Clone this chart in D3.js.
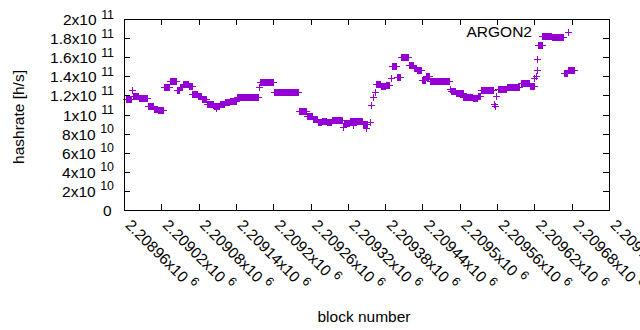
<!DOCTYPE html>
<html><head><meta charset="utf-8">
<script src="https://cdn.jsdelivr.net/npm/d3@7"></script>
<style>
body{margin:0;background:#fff}
svg{display:block}
text{font-family:"Liberation Sans",Arial,sans-serif;fill:#000}
</style>
</head><body>
<svg id="chart" width="640" height="330"></svg>
<script>
// ---- data (block ranges with a constant hashrate, in units of 1e9 h/s) ----
const runFirstBlock = [2208963,2208973,2208974,2208984,2208999,2209000,2209008,2209015,2209024,2209034,2209045,2209050,2209055,2209064,2209070,2209079,2209085,2209093,2209105,2209108,2209114,2209122,2209130,2209142,2209177,2209179,2209201,2209241,2209254,2209264,2209272,2209278,2209286,2209294,2209312,2209314,2209323,2209328,2209333,2209344,2209349,2209355,2209358,2209361,2209363,2209365,2209373,2209381,2209389,2209391,2209399,2209405,2209418,2209426,2209431,2209440,2209441,2209445,2209452,2209484,2209486,2209494,2209506,2209521,2209529,2209534,2209555,2209556,2209559,2209561,2209576,2209598,2209613,2209620,2209622,2209624,2209625,2209626,2209633,2209648,2209667,2209674];
const runLastBlock = [2208971,2208973,2208983,2208997,2208999,2209007,2209013,2209023,2209032,2209044,2209048,2209053,2209063,2209069,2209077,2209084,2209092,2209103,2209113,2209108,2209121,2209129,2209140,2209175,2209177,2209199,2209240,2209252,2209262,2209270,2209277,2209285,2209293,2209310,2209312,2209322,2209331,2209328,2209342,2209351,2209349,2209355,2209358,2209361,2209363,2209371,2209379,2209386,2209389,2209397,2209404,2209416,2209424,2209429,2209437,2209440,2209444,2209450,2209482,2209484,2209492,2209505,2209519,2209527,2209532,2209553,2209555,2209556,2209559,2209574,2209596,2209611,2209619,2209620,2209622,2209624,2209625,2209632,2209646,2209666,2209672,2209683];
const runHashrateG = [116.0,125.9,119.1,117.3,109.2,108.5,106.1,104.5,128.7,135.6,125.9,128.7,132.2,129.4,121.8,119.4,116.5,111.3,109.2,107.0,111.0,112.7,113.7,118.3,128.3,134.0,123.5,104.0,98.5,95.7,92.5,93.6,92.0,94.6,87.3,91.0,93.1,88.9,93.6,90.5,86.3,92.0,110.0,118.1,123.3,132.2,130.1,131.1,138.1,150.4,139.0,159.8,151.7,148.6,147.1,136.4,136.4,139.8,135.6,126.5,124.4,122.3,118.4,116.9,118.9,125.6,110.8,108.7,119.7,126.7,128.8,132.5,130.1,138.1,139.8,146.8,157.7,172.4,181.8,180.7,143.4,147.1];

const seriesName = "ARGON2";
const xTickValues = [2208960,2209020,2209080,2209140,2209200,2209260,2209320,2209380,2209440,2209500,2209560,2209620,2209680,2209740];
const xTickMantissa = ["2.20896","2.20902","2.20908","2.20914","2.2092","2.20926","2.20932","2.20938","2.20944","2.2095","2.20956","2.20962","2.20968","2.20974"];
const xTickExponent = ["6","6","6","6","6","6","6","6","6","6","6","6","6","6"];
const yTickValues = [0,2e10,4e10,6e10,8e10,1e11,1.2e11,1.4e11,1.6e11,1.8e11,2e11];
const yTickMantissa = ["0","2","4","6","8","1","1.2","1.4","1.6","1.8","2"];
const yTickExponent = ["","10","10","10","10","11","11","11","11","11","11"];
const xTitle = "block number";
const yTitle = "hashrate [h/s]";

// ---- build points: one per block ----
const points = [];
runFirstBlock.forEach((b0, i) => {
  for (let b = b0; b <= runLastBlock[i]; b++) points.push({block: b, hashrate: runHashrateG[i] * 1e9});
});

const svg = d3.select("#chart");
svg.append("rect").attr("width", 640).attr("height", 330).attr("fill", "#fff");

const plot = {left: 124, right: 609, top: 19, bottom: 210};
const x = d3.scaleLinear().domain([xTickValues[0], xTickValues[xTickValues.length - 1]]).range([plot.left, plot.right]);
const y = d3.scaleLinear().domain([0, 2e11]).range([plot.bottom, plot.top]);
const FS = 15.5, SUP = 12.4;
const color = "#9400d3";

// points
const cross = (cx, cy) => `M${cx - 3},${cy + 0.5}h7M${cx + 0.5},${cy - 3}v7`;
svg.append("path")
  .attr("d", points.map(p => cross(Math.round(x(p.block)), Math.round(y(p.hashrate)))).join(""))
  .attr("stroke", color).attr("stroke-width", 1).attr("fill", "none")
  .attr("shape-rendering", "crispEdges");

// axes (ticks inward on all four sides)
const styleAxis = g => { g.selectAll("path,line").attr("stroke", "#000").attr("stroke-width", 1).attr("shape-rendering", "crispEdges"); g.selectAll("text").remove(); };
svg.append("g").attr("transform", `translate(0,${plot.bottom})`)
  .call(d3.axisBottom(x).tickValues(xTickValues).tickSize(-6).tickSizeOuter(0).tickFormat("")).call(styleAxis);
svg.append("g").attr("transform", `translate(0,${plot.top})`)
  .call(d3.axisTop(x).tickValues(xTickValues).tickSize(-6).tickSizeOuter(0).tickFormat("")).call(styleAxis);
svg.append("g").attr("transform", `translate(${plot.left},0)`)
  .call(d3.axisLeft(y).tickValues(yTickValues).tickSize(-6).tickSizeOuter(0).tickFormat("")).call(styleAxis);
svg.append("g").attr("transform", `translate(${plot.right},0)`)
  .call(d3.axisRight(y).tickValues(yTickValues).tickSize(-6).tickSizeOuter(0).tickFormat("")).call(styleAxis);

// y tick labels
yTickValues.forEach((v, i) => {
  const t = svg.append("text")
    .attr("x", yTickExponent[i] ? 114 : 111.5)
    .attr("y", y(v) + 6)
    .attr("text-anchor", "end").attr("font-size", FS);
  if (yTickExponent[i]) {
    t.append("tspan").text(yTickMantissa[i] + "x10");
    t.append("tspan").attr("dx", 4.5).attr("dy", -6.5).attr("font-size", SUP).text(yTickExponent[i]);
  } else {
    t.text(yTickMantissa[i]);
  }
});

// x tick labels, rotated
xTickValues.forEach((v, i) => {
  const t = svg.append("text")
    .attr("transform", `translate(${x(v) + 0.5},226) rotate(45)`)
    .attr("font-size", FS);
  t.append("tspan").text(xTickMantissa[i] + "x10");
  t.append("tspan").attr("dx", 4.5).attr("dy", -6.5).attr("font-size", SUP).text(xTickExponent[i]);
});

// axis titles
svg.append("text").attr("x", 364).attr("y", 322).attr("text-anchor", "middle").attr("font-size", FS).text(xTitle);
svg.append("text").attr("transform", "translate(24,117) rotate(-90)").attr("text-anchor", "middle").attr("font-size", FS).text(yTitle);

// key
svg.append("text").attr("x", 532).attr("y", 37).attr("text-anchor", "end").attr("font-size", FS).text(seriesName);
svg.append("path").attr("d", cross(568, 32)).attr("stroke", color).attr("stroke-width", 1).attr("fill", "none").attr("shape-rendering", "crispEdges");
</script>
</body></html>
